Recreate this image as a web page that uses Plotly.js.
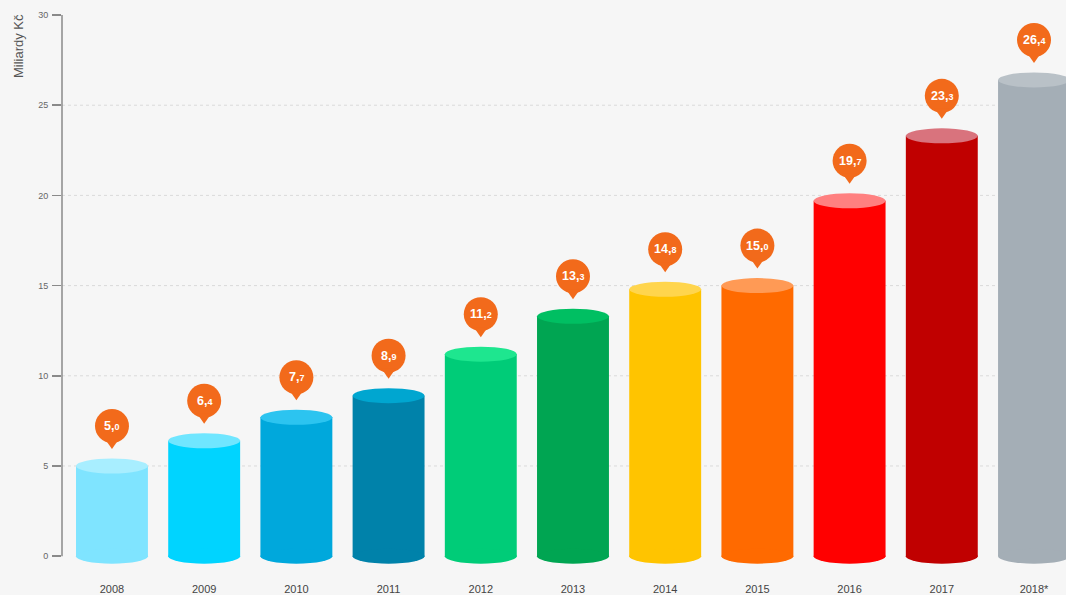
<!DOCTYPE html>
<html>
<head>
<meta charset="utf-8">
<script src="https://cdn.plot.ly/plotly-3.0.1.min.js"></script>
<style>html,body{margin:0;padding:0;background:#f6f6f6;}#chart{width:1066px;height:595px;}</style>
</head>
<body>
<div id="chart"></div>
<script>
var years = ['2008','2009','2010','2011','2012','2013','2014','2015','2016','2017','2018*'];
var values = [5.0, 6.4, 7.7, 8.9, 11.2, 13.3, 14.8, 15.0, 19.7, 23.3, 26.4];
var bodyColors = ['#7fe4ff','#00d4ff','#00a8dc','#0082aa','#00cc78','#00a552','#ffc400','#ff6a00','#ff0000','#c00000','#a4aeb6'];
var topColors = ['#a8eeff','#70e6ff','#2cc4f0','#00a6d0','#1ee68f','#00bf62','#ffd54d','#ff9a55','#ff8080','#d9737d','#b9c1c7'];
var yTicks = [0, 5, 10, 15, 20, 25, 30];
var gridVals = [5, 10, 15, 20, 25];

var barWidth = 0.78;
var half = barWidth / 2;
var pinColor = '#f26a1b';

var shapes = [];
// gridlines
gridVals.forEach(function (v) {
  shapes.push({type: 'line', xref: 'paper', yref: 'y', x0: 0, x1: 1, y0: v, y1: v,
    line: {color: '#dadada', width: 1, dash: 'dot'}, layer: 'below'});
});
// y axis line
shapes.push({type: 'line', xref: 'paper', yref: 'y', x0: 0, x1: 0, y0: 0, y1: 30,
  line: {color: '#8a8a8a', width: 1.5}, layer: 'above'});

var annotations = [];
values.forEach(function (v, i) {
  // bottom ellipse
  shapes.push({type: 'circle', xref: 'x', yref: 'y', x0: i - half, x1: i + half,
    ysizemode: 'pixel', yanchor: 0, y0: -7.5, y1: 7.5,
    fillcolor: bodyColors[i], line: {width: 0}, layer: 'above'});
  // top ellipse
  shapes.push({type: 'circle', xref: 'x', yref: 'y', x0: i - half, x1: i + half,
    ysizemode: 'pixel', yanchor: v, y0: -7.5, y1: 7.5,
    fillcolor: topColors[i], line: {width: 0}, layer: 'above'});
  // pin circle
  shapes.push({type: 'circle', xref: 'x', yref: 'y', xsizemode: 'pixel', xanchor: i,
    x0: -17, x1: 17, ysizemode: 'pixel', yanchor: v, y0: 23, y1: 57,
    fillcolor: pinColor, line: {width: 0}, layer: 'above'});
  // pin pointer
  shapes.push({type: 'path', xref: 'x', yref: 'y', xsizemode: 'pixel', xanchor: i,
    ysizemode: 'pixel', yanchor: v, path: 'M-7,27 L0,17 L7,27 Z',
    fillcolor: pinColor, line: {width: 0}, layer: 'above'});
  var s = v.toFixed(1).split('.');
  annotations.push({xref: 'x', yref: 'y', x: i, y: v, yshift: 40, showarrow: false,
    text: '<b>' + s[0] + ',<span style="font-size:9px">' + s[1] + '</span></b>',
    font: {family: 'Liberation Sans, Arial, sans-serif', size: 12.5, color: '#ffffff'}});
});

annotations.push({xref: 'paper', yref: 'paper', x: -0.044, y: 1.005, xanchor: 'center', yanchor: 'top',
  textangle: -90, showarrow: false, text: 'Miliardy Kč',
  font: {family: 'Liberation Sans, Arial, sans-serif', size: 13, color: '#555'}});

var trace = {
  type: 'bar',
  x: years.map(function (y, i) { return i; }),
  y: values,
  width: barWidth,
  marker: {color: bodyColors, line: {width: 0}},
  hoverinfo: 'none'
};

var layout = {
  width: 1066, height: 595,
  margin: {l: 62, r: 0, t: 15, b: 28},
  paper_bgcolor: '#f6f6f6', plot_bgcolor: '#f6f6f6',
  showlegend: false,
  font: {family: 'Liberation Sans, Arial, sans-serif'},
  xaxis: {
    range: [-0.542, 10.347], showgrid: false, zeroline: false, showline: false,
    tickmode: 'array', tickvals: years.map(function (y, i) { return i; }), ticktext: years,
    ticks: '', ticklabelstandoff: 14,
    tickfont: {size: 11, color: '#444'}, fixedrange: true
  },
  yaxis: {
    range: [-0.6, 30], showgrid: false, zeroline: false, showline: false,
    tickmode: 'array', tickvals: yTicks, ticks: 'outside', ticklen: 9, tickwidth: 1.5,
    tickcolor: '#8a8a8a', tickfont: {size: 9, color: '#666'}, ticklabelstandoff: 2,
    fixedrange: true
  },
  shapes: shapes,
  annotations: annotations
};

Plotly.newPlot('chart', [trace], layout, {displayModeBar: false, staticPlot: true});
</script>
</body>
</html>
